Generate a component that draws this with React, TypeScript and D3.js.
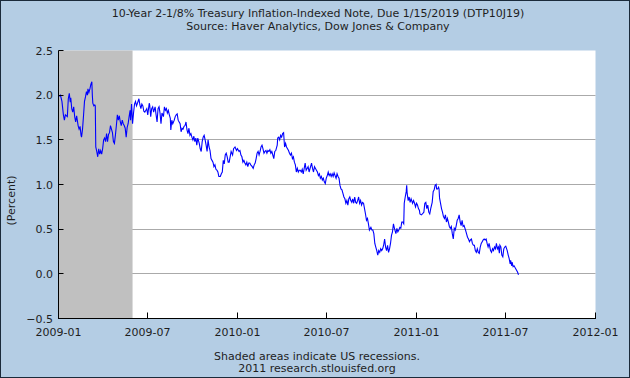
import React from "react";
import * as d3 from "d3";

const W = 630;
const H = 378;

const titleLines = [
  "10-Year 2-1/8% Treasury Inflation-Indexed Note, Due 1/15/2019 (DTP10J19)",
  "Source: Haver Analytics, Dow Jones & Company",
];
const footerLines = ["Shaded areas indicate US recessions.", "2011 research.stlouisfed.org"];
const yAxisLabel = "(Percent)";
const xDomain = ["2009-01-01", "2012-01-01"];
const yDomain = [-0.5, 2.5];
const xTickLabels = ["2009-01", "2009-07", "2010-01", "2010-07", "2011-01", "2011-07", "2012-01"];
const yTickValues = [-0.5, 0, 0.5, 1.0, 1.5, 2.0, 2.5];
const gridValues = [0, 0.5, 1.0, 1.5, 2.0];
const recessions = [["2009-01-01", "2009-06-01"]];

const dates = [
  "2009-01-02","2009-01-05","2009-01-08","2009-01-11","2009-01-13","2009-01-15","2009-01-19","2009-01-21","2009-01-23","2009-01-25",
  "2009-01-26","2009-01-28","2009-01-30","2009-02-01","2009-02-03","2009-02-05","2009-02-07","2009-02-10","2009-02-12","2009-02-14",
  "2009-02-16","2009-02-17","2009-02-19","2009-02-21","2009-02-23","2009-02-25","2009-02-27","2009-03-01","2009-03-02","2009-03-04",
  "2009-03-06","2009-03-08","2009-03-10","2009-03-11","2009-03-12","2009-03-14","2009-03-16","2009-03-17","2009-03-18","2009-03-20",
  "2009-03-22","2009-03-24","2009-03-26","2009-03-28","2009-03-30","2009-04-01","2009-04-03","2009-04-05","2009-04-07","2009-04-09",
  "2009-04-11","2009-04-13","2009-04-15","2009-04-17","2009-04-19","2009-04-21","2009-04-23","2009-04-25","2009-04-27","2009-04-29",
  "2009-05-01","2009-05-03","2009-05-05","2009-05-07","2009-05-09","2009-05-11","2009-05-13","2009-05-15","2009-05-17","2009-05-19",
  "2009-05-21","2009-05-23","2009-05-25","2009-05-27","2009-05-28","2009-05-30","2009-06-01","2009-06-03","2009-06-05","2009-06-07",
  "2009-06-09","2009-06-11","2009-06-14","2009-06-16","2009-06-18","2009-06-20","2009-06-22","2009-06-24","2009-06-26","2009-06-30",
  "2009-07-02","2009-07-05","2009-07-06","2009-07-08","2009-07-10","2009-07-12","2009-07-14","2009-07-17","2009-07-19","2009-07-21",
  "2009-07-23","2009-07-25","2009-07-27","2009-07-29","2009-07-31","2009-08-03","2009-08-05","2009-08-07","2009-08-09","2009-08-11",
  "2009-08-13","2009-08-15","2009-08-17","2009-08-18","2009-08-20","2009-08-22","2009-08-25","2009-08-27","2009-08-29","2009-08-31",
  "2009-09-02","2009-09-04","2009-09-06","2009-09-08","2009-09-10","2009-09-12","2009-09-14","2009-09-16","2009-09-18","2009-09-20",
  "2009-09-22","2009-09-24","2009-09-26","2009-09-28","2009-09-30","2009-10-02","2009-10-04","2009-10-06","2009-10-08","2009-10-10",
  "2009-10-12","2009-10-15","2009-10-17","2009-10-19","2009-10-21","2009-10-23","2009-10-25","2009-10-27","2009-10-29","2009-10-31",
  "2009-11-02","2009-11-04","2009-11-06","2009-11-08","2009-11-10","2009-11-12","2009-11-14","2009-11-16","2009-11-18","2009-11-20",
  "2009-11-22","2009-11-24","2009-11-27","2009-11-29","2009-12-01","2009-12-03","2009-12-05","2009-12-07","2009-12-09","2009-12-11",
  "2009-12-13","2009-12-15","2009-12-17","2009-12-19","2009-12-22","2009-12-24","2009-12-27","2009-12-30","2010-01-01","2010-01-04",
  "2010-01-06","2010-01-08","2010-01-10","2010-01-12","2010-01-14","2010-01-16","2010-01-18","2010-01-20","2010-01-22","2010-01-24",
  "2010-01-26","2010-01-28","2010-01-31","2010-02-02","2010-02-04","2010-02-06","2010-02-08","2010-02-10","2010-02-12","2010-02-14",
  "2010-02-16","2010-02-18","2010-02-20","2010-02-22","2010-02-24","2010-02-26","2010-02-28","2010-03-02","2010-03-04","2010-03-06",
  "2010-03-08","2010-03-10","2010-03-12","2010-03-14","2010-03-16","2010-03-18","2010-03-20","2010-03-23","2010-03-24","2010-03-26",
  "2010-03-28","2010-03-30","2010-04-01","2010-04-03","2010-04-05","2010-04-07","2010-04-09","2010-04-11","2010-04-13","2010-04-15",
  "2010-04-17","2010-04-19","2010-04-21","2010-04-23","2010-04-25","2010-04-27","2010-04-29","2010-05-01","2010-05-03","2010-05-05",
  "2010-05-07","2010-05-09","2010-05-11","2010-05-13","2010-05-15","2010-05-17","2010-05-19","2010-05-21","2010-05-23","2010-05-25",
  "2010-05-27","2010-05-30","2010-06-01","2010-06-03","2010-06-05","2010-06-07","2010-06-09","2010-06-11","2010-06-13","2010-06-15",
  "2010-06-17","2010-06-19","2010-06-21","2010-06-23","2010-06-25","2010-06-27","2010-06-29","2010-07-01","2010-07-03","2010-07-05",
  "2010-07-07","2010-07-09","2010-07-11","2010-07-13","2010-07-15","2010-07-17","2010-07-19","2010-07-21","2010-07-23","2010-07-25",
  "2010-07-27","2010-07-29","2010-07-31","2010-08-02","2010-08-04","2010-08-06","2010-08-08","2010-08-10","2010-08-12","2010-08-14",
  "2010-08-16","2010-08-18","2010-08-20","2010-08-22","2010-08-24","2010-08-26","2010-08-28","2010-08-30","2010-09-01","2010-09-03",
  "2010-09-05","2010-09-07","2010-09-09","2010-09-11","2010-09-13","2010-09-15","2010-09-17","2010-09-19","2010-09-21","2010-09-23",
  "2010-09-25","2010-09-27","2010-09-30","2010-10-02","2010-10-04","2010-10-06","2010-10-08","2010-10-10","2010-10-12","2010-10-14",
  "2010-10-16","2010-10-18","2010-10-20","2010-10-22","2010-10-24","2010-10-26","2010-10-28","2010-10-30","2010-11-01","2010-11-03",
  "2010-11-05","2010-11-07","2010-11-09","2010-11-11","2010-11-13","2010-11-15","2010-11-17","2010-11-20","2010-11-22","2010-11-24",
  "2010-11-26","2010-11-28","2010-11-30","2010-12-02","2010-12-04","2010-12-06","2010-12-07","2010-12-09","2010-12-11","2010-12-12",
  "2010-12-13","2010-12-15","2010-12-17","2010-12-19","2010-12-21","2010-12-24","2010-12-26","2010-12-28","2010-12-30","2011-01-01",
  "2011-01-03","2011-01-05","2011-01-07","2011-01-08","2011-01-11","2011-01-13","2011-01-16","2011-01-18","2011-01-20","2011-01-22",
  "2011-01-24","2011-01-26","2011-01-28","2011-01-30","2011-02-02","2011-02-03","2011-02-04","2011-02-06","2011-02-08","2011-02-10",
  "2011-02-11","2011-02-13","2011-02-15","2011-02-16","2011-02-17","2011-02-21","2011-02-23","2011-02-25","2011-02-27","2011-03-01",
  "2011-03-03","2011-03-05","2011-03-07","2011-03-09","2011-03-11","2011-03-13","2011-03-15","2011-03-17","2011-03-19","2011-03-21",
  "2011-03-23","2011-03-25","2011-03-27","2011-03-29","2011-03-31","2011-04-02","2011-04-04","2011-04-06","2011-04-08","2011-04-11",
  "2011-04-13","2011-04-15","2011-04-17","2011-04-19","2011-04-21","2011-04-23","2011-04-25","2011-04-27","2011-04-29","2011-05-01",
  "2011-05-03","2011-05-05","2011-05-07","2011-05-09","2011-05-11","2011-05-13","2011-05-15","2011-05-17","2011-05-19","2011-05-21",
  "2011-05-23","2011-05-25","2011-05-27","2011-05-29","2011-06-01","2011-06-03","2011-06-05","2011-06-07","2011-06-09","2011-06-11",
  "2011-06-13","2011-06-15","2011-06-17","2011-06-19","2011-06-20","2011-06-22","2011-06-24","2011-06-26","2011-06-28","2011-06-30",
  "2011-07-02","2011-07-05","2011-07-07","2011-07-09","2011-07-11","2011-07-12","2011-07-14","2011-07-15","2011-07-17","2011-07-19",
  "2011-07-22","2011-07-24","2011-07-26","2011-07-28",
];

const values = [
  1.99,2.00,1.93,1.78,1.72,1.78,1.76,1.96,2.02,1.92,
  1.97,1.85,1.81,1.87,1.76,1.70,1.77,1.66,1.62,1.65,
  1.55,1.53,1.62,1.77,1.93,1.98,2.04,2.00,2.07,2.03,
  2.07,2.12,2.15,2.00,1.91,1.88,1.89,1.88,1.42,1.37,
  1.31,1.40,1.34,1.38,1.34,1.40,1.50,1.52,1.48,1.57,
  1.48,1.56,1.58,1.66,1.62,1.58,1.48,1.46,1.55,1.66,
  1.78,1.72,1.77,1.70,1.66,1.72,1.68,1.66,1.63,1.53,
  1.64,1.68,1.76,1.83,1.72,1.90,1.68,1.80,1.90,1.93,
  1.88,1.91,1.96,1.89,1.85,1.90,1.88,1.82,1.81,1.85,
  1.78,1.91,1.89,1.76,1.85,1.87,1.81,1.87,1.78,1.70,
  1.85,1.87,1.80,1.68,1.80,1.76,1.87,1.83,1.85,1.80,
  1.83,1.78,1.74,1.61,1.72,1.68,1.72,1.76,1.78,1.79,
  1.72,1.70,1.68,1.59,1.63,1.62,1.65,1.66,1.70,1.61,
  1.57,1.63,1.55,1.57,1.53,1.50,1.54,1.48,1.52,1.44,
  1.52,1.46,1.40,1.37,1.48,1.53,1.55,1.50,1.44,1.37,
  1.50,1.42,1.38,1.29,1.27,1.25,1.20,1.22,1.17,1.16,
  1.14,1.09,1.09,1.12,1.14,1.27,1.23,1.33,1.35,1.31,
  1.25,1.25,1.31,1.37,1.33,1.40,1.42,1.38,1.40,1.37,
  1.38,1.33,1.31,1.25,1.27,1.24,1.22,1.25,1.20,1.24,
  1.24,1.22,1.20,1.18,1.22,1.24,1.29,1.35,1.37,1.33,
  1.37,1.42,1.44,1.40,1.35,1.37,1.38,1.35,1.38,1.37,
  1.39,1.35,1.37,1.33,1.29,1.37,1.38,1.44,1.52,1.53,
  1.50,1.55,1.53,1.57,1.58,1.42,1.46,1.42,1.40,1.38,
  1.35,1.33,1.35,1.29,1.31,1.25,1.22,1.14,1.18,1.14,
  1.16,1.16,1.14,1.17,1.12,1.18,1.24,1.16,1.18,1.20,
  1.14,1.20,1.24,1.18,1.14,1.20,1.18,1.16,1.14,1.10,
  1.12,1.07,1.09,1.05,1.07,1.03,1.01,1.07,1.10,1.14,
  1.10,1.12,1.09,1.12,1.09,1.13,1.10,1.07,1.12,1.09,
  1.07,0.99,0.95,0.94,0.90,0.86,0.84,0.79,0.82,0.77,
  0.84,0.86,0.82,0.80,0.84,0.79,0.86,0.80,0.79,0.82,
  0.86,0.79,0.82,0.77,0.80,0.79,0.73,0.67,0.60,0.62,
  0.56,0.49,0.52,0.49,0.49,0.45,0.34,0.30,0.26,0.21,
  0.26,0.24,0.28,0.26,0.28,0.32,0.39,0.30,0.26,0.32,
  0.24,0.28,0.34,0.43,0.47,0.56,0.51,0.45,0.51,0.47,
  0.49,0.52,0.51,0.58,0.58,0.56,0.79,0.86,0.92,0.99,
  0.90,0.82,0.86,0.80,0.84,0.79,0.82,0.79,0.75,0.79,
  0.77,0.73,0.71,0.67,0.66,0.67,0.69,0.79,0.80,0.73,
  0.77,0.69,0.67,0.73,0.80,0.86,0.92,0.94,0.99,1.00,
  0.95,0.95,0.97,0.95,0.85,0.73,0.69,0.64,0.62,0.66,
  0.58,0.62,0.58,0.53,0.51,0.53,0.45,0.39,0.51,0.49,
  0.54,0.60,0.62,0.66,0.58,0.54,0.60,0.53,0.54,0.49,
  0.45,0.41,0.39,0.36,0.38,0.39,0.34,0.32,0.32,0.26,
  0.24,0.28,0.24,0.23,0.30,0.34,0.36,0.38,0.39,0.38,
  0.39,0.34,0.30,0.34,0.26,0.24,0.28,0.26,0.30,0.28,
  0.34,0.28,0.30,0.23,0.32,0.30,0.21,0.19,0.28,0.30,
  0.31,0.26,0.21,0.17,0.11,0.15,0.09,0.13,0.08,0.09,
  0.06,0.04,0.02,-0.01,
];

const FONT = "'DejaVu Sans', Verdana, sans-serif";
const TEXT = "#1e1e1e";

export default function App() {
  const parseDay = d3.timeParse("%Y-%m-%d");
  const parseMonth = d3.timeParse("%Y-%m");
  const x = d3
    .scaleTime()
    .domain([parseDay(xDomain[0]) as Date, parseDay(xDomain[1]) as Date])
    .range([58.5, 595.5]);
  const y = d3.scaleLinear().domain(yDomain).range([318.5, 50.5]);

  const pts: [Date, number][] = dates.map((d, i) => [parseDay(d) as Date, values[i]]);
  const line = d3
    .line<[Date, number]>()
    .x((d) => x(d[0]))
    .y((d) => y(d[1]));

  const [x0, x1] = x.range();
  const [yb, yt] = y.range();
  const snap = (v: number) => Math.round(v - 0.5) + 0.5;
  const fmt = d3.format(".1f");

  return (
    <svg
      width={W}
      height={H}
      style={{ position: "fixed", left: 0, top: 0, display: "block" }}
      fontFamily={FONT}
    >
      <rect x={0} y={0} width={W} height={H} fill="#b4cde4" />
      <rect x={0.5} y={0.5} width={W - 1} height={H - 1} fill="none" stroke="#1a2a3a" strokeWidth={1} />

      {titleLines.map((t, i) => (
        <text key={t} x={318} y={17 + i * 13} textAnchor="middle" fontSize={11} fill={TEXT}>
          {t}
        </text>
      ))}

      <rect x={x0} y={yt} width={x1 - x0} height={yb - yt} fill="#ffffff" />

      {gridValues.map((v) => (
        <line key={v} x1={x0} x2={x1} y1={snap(y(v))} y2={snap(y(v))} stroke="#aaaaaa" strokeWidth={1} />
      ))}

      {recessions.map(([s, e]) => (
        <rect
          key={s}
          x={x(parseDay(s) as Date)}
          y={yt}
          width={x(parseDay(e) as Date) - x(parseDay(s) as Date)}
          height={yb - yt}
          fill="#c0c0c0"
        />
      ))}

      <path d={line(pts) ?? ""} fill="none" stroke="#0000ff" strokeWidth={1.1} strokeLinejoin="miter" />

      <line x1={x0} x2={x0} y1={yt} y2={yb} stroke="#000" strokeWidth={1} />
      <line x1={x0 - 0.5} x2={x1 + 0.5} y1={yb} y2={yb} stroke="#000" strokeWidth={1} />

      {yTickValues.map((v) => (
        <g key={v}>
          <line x1={x0} x2={x0 + 5} y1={snap(y(v))} y2={snap(y(v))} stroke="#000" strokeWidth={1} />
          <text x={53} y={y(v) + 4} textAnchor="end" fontSize={11} fill={TEXT}>
            {fmt(v)}
          </text>
        </g>
      ))}

      {xTickLabels.map((lab) => {
        const xp = snap(x(parseMonth(lab) as Date));
        return (
          <g key={lab}>
            <line x1={xp} x2={xp} y1={yb} y2={yb - 6} stroke="#000" strokeWidth={1} />
            <text x={xp} y={336} textAnchor="middle" fontSize={11} fill={TEXT}>
              {lab}
            </text>
          </g>
        );
      })}

      <text
        transform={`translate(15, ${(yt + yb) / 2 + 16}) rotate(-90)`}
        textAnchor="middle"
        fontSize={11}
        fill={TEXT}
      >
        {yAxisLabel}
      </text>

      {footerLines.map((t, i) => (
        <text key={t} x={317} y={360 + i * 12} textAnchor="middle" fontSize={11} fill={TEXT}>
          {t}
        </text>
      ))}
    </svg>
  );
}
